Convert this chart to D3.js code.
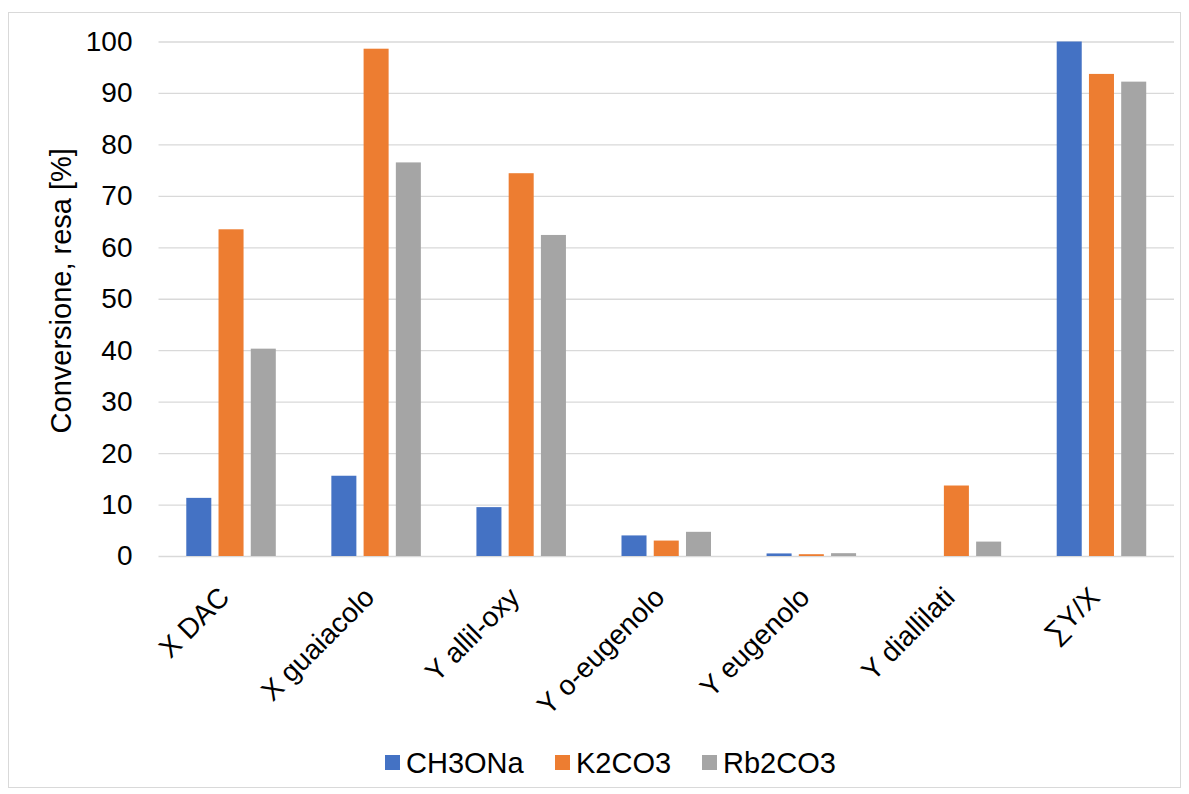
<!DOCTYPE html>
<html>
<head>
<meta charset="utf-8">
<script src="https://cdn.jsdelivr.net/npm/d3@7"></script>
<style>
  html, body { margin: 0; padding: 0; background: #fff; }
  svg { display: block; }
  text { font-family: "Liberation Sans", Arial, sans-serif; fill: #000; }
</style>
</head>
<body>
<svg id="chart" width="1189" height="794"></svg>
<script>
// Categories along the x axis
const categories = ["X DAC", "X guaiacolo", "Y allil-oxy", "Y o-eugenolo", "Y eugenolo", "Y diallilati", "\u2211Y/X"];
// Series names
const seriesNames = ["CH3ONa", "K2CO3", "Rb2CO3"];
// Series values [%]
const ch3ona = [11.3, 15.6, 9.5, 4.0, 0.5, 0, 100];
const k2co3  = [63.5, 98.6, 74.4, 3.0, 0.35, 13.7, 93.7];
const rb2co3 = [40.3, 76.5, 62.4, 4.7, 0.55, 2.8, 92.2];
// Y axis ticks
const yTicks = [0, 10, 20, 30, 40, 50, 60, 70, 80, 90, 100];

const seriesValues = [ch3ona, k2co3, rb2co3];
const colors = ["#4472C4", "#ED7D31", "#A5A5A5"];

const svg = d3.select("#chart");
const plot = { left: 158.5, right: 1174, top: 41.5, bottom: 556 };
const fontSize = 28;

// Chart area border
svg.append("rect")
  .attr("x", 8.5).attr("y", 12.5)
  .attr("width", 1172).attr("height", 775)
  .attr("fill", "#fff").attr("stroke", "#D9D9D9").attr("stroke-width", 1);

const y = d3.scaleLinear().domain([0, 100]).range([plot.bottom, plot.top]);

const x0 = d3.scaleBand()
  .domain(categories)
  .range([plot.left, plot.right])
  .paddingInner(0.383)
  .paddingOuter(0.1915);

const x1 = d3.scaleBand()
  .domain(seriesNames)
  .range([0, x0.bandwidth()])
  .paddingInner(0.224)
  .paddingOuter(0);

// Horizontal gridlines and value labels
const yAxis = d3.axisLeft(y)
  .tickValues(yTicks)
  .tickSize(-(plot.right - plot.left))
  .tickPadding(26)
  .tickFormat(d3.format("d"));

const gy = svg.append("g")
  .attr("transform", `translate(${plot.left},0)`)
  .call(yAxis);
gy.select(".domain").remove();
gy.selectAll(".tick line").attr("stroke", "#D9D9D9").attr("stroke-width", 1.3);
gy.selectAll(".tick text")
  .style("font-size", fontSize + "px")
  .attr("fill", "#000");

// Bars
const groups = svg.append("g").selectAll("g")
  .data(categories)
  .join("g")
  .attr("transform", d => `translate(${x0(d)},0)`);

groups.selectAll("rect")
  .data((c, i) => seriesNames.map((s, j) => ({ s, v: seriesValues[j][i], j })))
  .join("rect")
  .attr("x", d => x1(d.s))
  .attr("width", x1.bandwidth())
  .attr("y", d => y(d.v))
  .attr("height", d => y(0) - y(d.v))
  .attr("fill", d => colors[d.j]);

// Rotated category labels
const xAxis = d3.axisBottom(x0).tickSize(0).tickPadding(0);
const gx = svg.append("g")
  .attr("transform", `translate(0,${plot.bottom})`)
  .call(xAxis);
gx.select(".domain").remove();
gx.selectAll(".tick text")
  .style("font-size", fontSize + "px")
  .attr("fill", "#000")
  .attr("text-anchor", "end")
  .attr("dy", null)
  .attr("y", 0)
  .attr("transform", "translate(0,43) rotate(-45)");

// Y axis title
svg.append("text")
  .attr("transform", `translate(71,${(plot.top + plot.bottom) / 2 - 8}) rotate(-90)`)
  .attr("text-anchor", "middle")
  .style("font-size", "29px")
  .text("Conversione, resa [%]");

// Legend
const legendX = [385, 555, 702];
const legend = svg.append("g");
seriesNames.forEach((name, i) => {
  legend.append("rect")
    .attr("x", legendX[i]).attr("y", 755)
    .attr("width", 15).attr("height", 15)
    .attr("fill", colors[i]);
  legend.append("text")
    .attr("x", legendX[i] + 21).attr("y", 772.5)
    .style("font-size", "29px")
    .text(name);
});
</script>
</body>
</html>
